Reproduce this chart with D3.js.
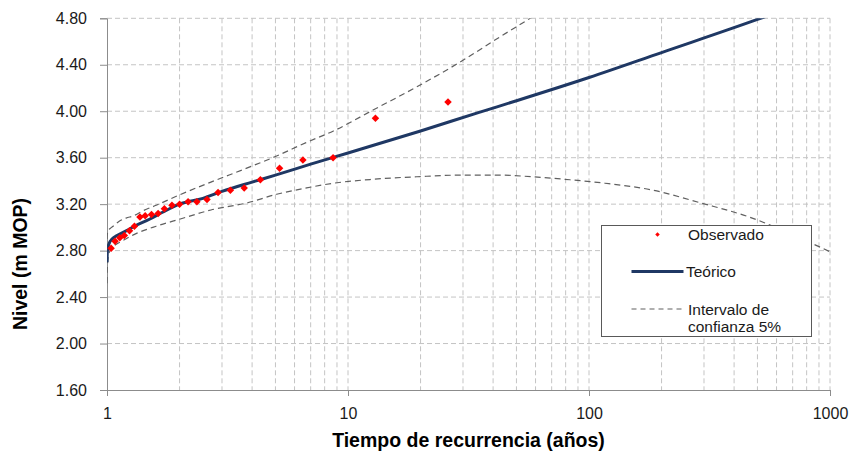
<!DOCTYPE html>
<html>
<head>
<meta charset="utf-8">
<script src="https://cdn.jsdelivr.net/npm/d3@7"></script>
<style>
  html, body { margin: 0; padding: 0; background: #ffffff; }
  svg { display: block; font-family: "Liberation Sans", Arial, sans-serif; }
</style>
</head>
<body>
<svg id="chart" width="851" height="457"></svg>
<script>
// Observed annual maxima: return period (years) and level (m MOP)
const observedT = [26, 13, 8.67, 6.5, 5.2, 4.33, 3.71, 3.25, 2.89, 2.6, 2.36, 2.17, 2.0,
  1.86, 1.73, 1.63, 1.53, 1.44, 1.37, 1.3, 1.24, 1.18, 1.13, 1.08, 1.04];
const observedLevel = [4.08, 3.94, 3.60, 3.58, 3.51, 3.41, 3.34, 3.32, 3.30, 3.24, 3.22, 3.22, 3.20,
  3.19, 3.16, 3.12, 3.11, 3.10, 3.09, 3.01, 2.97, 2.93, 2.91, 2.88, 2.82];

// Fitted (theoretical) level curve
const theoryT = [1.0005, 1.002, 1.005, 1.01, 1.02, 1.05, 1.1, 1.2, 1.3, 1.5, 1.7, 2, 2.5, 3, 4, 5,
  7, 10, 20, 35, 50, 100, 200, 500, 1000];
const theoryLevel = [2.70, 2.76, 2.80, 2.83, 2.86, 2.90, 2.93, 2.97, 3.01, 3.07, 3.13, 3.20, 3.25, 3.31, 3.39, 3.45,
  3.545, 3.64, 3.83, 3.99, 4.09, 4.29, 4.505, 4.79, 5.02];

// 5% confidence band, upper limit
const upperT = [1.0005, 1.003, 1.01, 1.03, 1.06, 1.12, 1.2, 1.29, 1.4, 1.6, 2.0, 2.7, 3.8, 5, 6.7,
  8.7, 12.7, 19.3, 29, 42.7, 57, 80];
const upperLevel = [2.90, 2.94, 2.97, 2.99, 3.01, 3.05, 3.08, 3.10, 3.14, 3.19, 3.28, 3.39, 3.51, 3.61, 3.73,
  3.83, 4.01, 4.21, 4.42, 4.64, 4.80, 4.99];

// 5% confidence band, lower limit
const lowerT = [1.0005, 1.002, 1.006, 1.015, 1.03, 1.07, 1.15, 1.3, 1.6, 2.0, 2.7, 3.8, 5.06, 6.74,
  8.69, 12.7, 19.3, 29.2, 42.7, 58.6, 83.4, 116.5, 184.4, 291.6, 461, 730, 1000];
const lowerLevel = [2.52, 2.62, 2.70, 2.76, 2.80, 2.84, 2.88, 2.94, 3.01, 3.07, 3.15, 3.21, 3.285, 3.34,
  3.38, 3.414, 3.436, 3.45, 3.45, 3.435, 3.41, 3.38, 3.32, 3.21, 3.09, 2.92, 2.79];

// Axis ticks
const xTickValues = [1, 10, 100, 1000];
const xTickLabels = ["1", "10", "100", "1000"];
const yTickValues = [1.6, 2.0, 2.4, 2.8, 3.2, 3.6, 4.0, 4.4, 4.8];
const yTickLabels = ["1.60", "2.00", "2.40", "2.80", "3.20", "3.60", "4.00", "4.40", "4.80"];

const legendLabels = ["Observado", "Teórico", ["Intervalo de", "confianza 5%"]];

const svg = d3.select("#chart");
const plot = { left: 107, right: 830, top: 18.3, bottom: 390 };

const x = d3.scaleLog().domain([1, 1000]).range([plot.left, plot.right]);
const y = d3.scaleLinear().domain([1.6, 4.8]).range([plot.bottom, plot.top]);

const gridColor = "#c4c4c4";
const axisColor = "#8c8c8c";
const lineColor = "#1f3864";
const bandColor = "#606060";
const textColor = "#1a1a1a";

svg.append("defs").append("clipPath").attr("id", "plotClip")
  .append("rect")
  .attr("x", plot.left).attr("y", plot.top)
  .attr("width", plot.right - plot.left).attr("height", plot.bottom - plot.top);

// Grid: vertical lines at every log sub-division, horizontal lines at each y tick
const gridG = svg.append("g");
const minorX = x.ticks().filter(d => d > 1);
gridG.selectAll("line.vx").data(minorX).join("line")
  .attr("x1", d => x(d)).attr("x2", d => x(d))
  .attr("y1", plot.top).attr("y2", plot.bottom)
  .attr("stroke", gridColor).attr("stroke-width", 1).attr("stroke-dasharray", "5,3");
gridG.selectAll("line.hy").data(yTickValues.filter(d => d > 1.6)).join("line")
  .attr("x1", plot.left).attr("x2", plot.right)
  .attr("y1", d => y(d)).attr("y2", d => y(d))
  .attr("stroke", gridColor).attr("stroke-width", 1).attr("stroke-dasharray", "5,3");

// Axes
const yAxis = d3.axisLeft(y).tickValues(yTickValues)
  .tickFormat((d, i) => yTickLabels[i]).tickSize(7).tickPadding(13);
const yG = svg.append("g").attr("transform", `translate(${plot.left},0)`).call(yAxis);
yG.select(".domain").attr("stroke", axisColor);
yG.selectAll(".tick line").attr("stroke", axisColor);
yG.selectAll(".tick text").attr("font-size", 16).attr("fill", textColor)
  .attr("font-family", "Liberation Sans, Arial, sans-serif");

const xAxis = d3.axisBottom(x).tickValues(xTickValues)
  .tickFormat((d, i) => xTickLabels[i]).tickSize(6).tickPadding(12);
const xG = svg.append("g").attr("transform", `translate(0,${plot.bottom})`).call(xAxis);
xG.select(".domain").attr("stroke", axisColor);
xG.selectAll(".tick line").attr("stroke", axisColor);
xG.selectAll(".tick text").attr("font-size", 16).attr("fill", textColor)
  .attr("font-family", "Liberation Sans, Arial, sans-serif");

// Axis titles
svg.append("text")
  .attr("x", (plot.left + plot.right) / 2).attr("y", 447)
  .attr("text-anchor", "middle").attr("font-size", 19.5).attr("font-weight", "bold")
  .attr("fill", "#000")
  .text("Tiempo de recurrencia (años)");
svg.append("text")
  .attr("transform", "translate(27,264) rotate(-90)")
  .attr("text-anchor", "middle").attr("font-size", 19.5).attr("font-weight", "bold")
  .attr("fill", "#000")
  .text("Nivel (m MOP)");

// Series
const toPairs = (ts, vs) => ts.map((t, i) => [t, vs[i]]);
const line = d3.line().x(d => x(d[0])).y(d => y(d[1])).curve(d3.curveMonotoneX);

const series = svg.append("g").attr("clip-path", "url(#plotClip)");
series.append("path").datum(toPairs(upperT, upperLevel))
  .attr("d", line).attr("fill", "none").attr("stroke", bandColor)
  .attr("stroke-width", 1.2).attr("stroke-dasharray", "6,4");
series.append("path").datum(toPairs(lowerT, lowerLevel))
  .attr("d", line).attr("fill", "none").attr("stroke", bandColor)
  .attr("stroke-width", 1.2).attr("stroke-dasharray", "6,4");
series.append("path").datum(toPairs(theoryT, theoryLevel))
  .attr("d", line).attr("fill", "none").attr("stroke", lineColor)
  .attr("stroke-width", 3);

const diamond = d3.symbol().type(d3.symbolSquare).size(28);
svg.append("g").selectAll("path").data(toPairs(observedT, observedLevel)).join("path")
  .attr("d", diamond)
  .attr("transform", d => `translate(${x(d[0])},${y(d[1])}) rotate(45)`)
  .attr("fill", "#ff0000");

// Legend
const lg = svg.append("g");
lg.append("rect").attr("x", 601.5).attr("y", 225.5).attr("width", 210).attr("height", 111)
  .attr("fill", "#ffffff").attr("stroke", "#595959").attr("stroke-width", 1);
lg.append("path").attr("d", d3.symbol().type(d3.symbolSquare).size(10))
  .attr("transform", "translate(657.5,234.5) rotate(45)").attr("fill", "#ff0000");
lg.append("line").attr("x1", 631.5).attr("x2", 683.5).attr("y1", 271.5).attr("y2", 271.5)
  .attr("stroke", lineColor).attr("stroke-width", 3);
lg.append("line").attr("x1", 631.5).attr("x2", 683.5).attr("y1", 309).attr("y2", 309)
  .attr("stroke", bandColor).attr("stroke-width", 1.2).attr("stroke-dasharray", "5,4");
const lgText = lg.append("g").attr("font-size", 15.5).attr("fill", textColor);
lgText.append("text").attr("x", 688).attr("y", 240).text(legendLabels[0]);
lgText.append("text").attr("x", 686).attr("y", 277).text(legendLabels[1]);
lgText.append("text").attr("x", 688).attr("y", 315).text(legendLabels[2][0]);
lgText.append("text").attr("x", 688).attr("y", 332).text(legendLabels[2][1]);
</script>
</body>
</html>
